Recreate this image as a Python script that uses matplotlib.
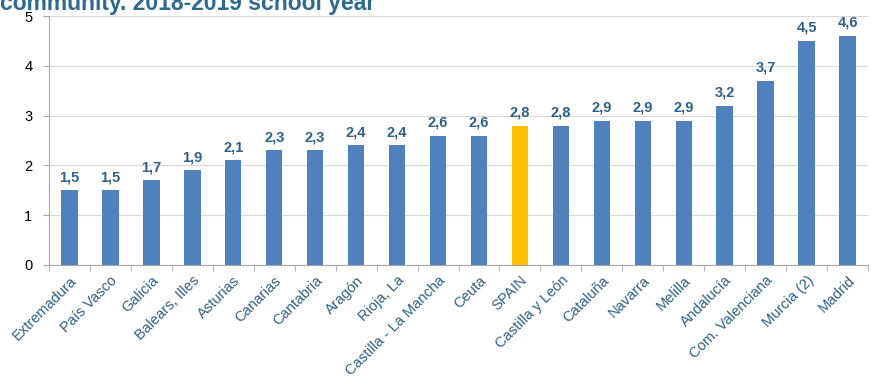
import matplotlib
matplotlib.use("Agg")
import matplotlib.pyplot as plt

regions = ["Extremadura", "País Vasco", "Galicia", "Balears, Illes", "Asturias",
           "Canarias", "Cantabria", "Aragón", "Rioja, La", "Castilla - La Mancha",
           "Ceuta", "SPAIN", "Castilla y León", "Cataluña", "Navarra", "Melilla",
           "Andalucía", "Com. Valenciana", "Murcia (2)", "Madrid"]
values = [1.5, 1.5, 1.7, 1.9, 2.1, 2.3, 2.3, 2.4, 2.4, 2.6,
          2.6, 2.8, 2.8, 2.9, 2.9, 2.9, 3.2, 3.7, 4.5, 4.6]

plt.rcParams['font.family'] = ['Liberation Sans', 'DejaVu Sans']

label_col = '#2E6187'
colors = ['#FFC000' if r == 'SPAIN' else '#4F81BD' for r in regions]

fig = plt.figure(figsize=(8.71, 3.78), dpi=100)
ax = fig.add_axes([49 / 871, 1 - 265 / 378, 819 / 871, 249 / 378])

x = range(len(regions))
ax.bar(x, values, width=0.4, color=colors, zorder=3)

for xi, v in zip(x, values):
    ax.text(xi, v + 0.12, '{:.1f}'.format(v).replace('.', ','), ha='center', va='bottom',
            fontsize=10.5, fontweight='bold', color=label_col)

ax.set_xlim(-0.5, len(regions) - 0.5)
ax.set_ylim(0, 5)
ax.set_yticks(range(6))
ax.yaxis.grid(True, color='#D9D9D9', linewidth=0.8, zorder=0)
ax.set_axisbelow(True)

ax.set_xticks(x)
ax.set_xticklabels(regions, rotation=45, ha='right', rotation_mode='anchor',
                   fontsize=10.5, color=label_col)
ax.tick_params(axis='x', length=0, pad=6)
ax.set_xticks([i + 0.5 for i in range(-1, len(regions))], minor=True)
ax.tick_params(axis='x', which='minor', length=4, color='#A6A6A6', direction='out')
ax.tick_params(axis='y', length=4, color='#A6A6A6', labelsize=10.5, labelcolor='black', pad=8)

for s in ['top', 'right']:
    ax.spines[s].set_visible(False)
for s in ['left', 'bottom']:
    ax.spines[s].set_color('#A6A6A6')

# title is partly cut off at the top, as in the source image
fig.text(0.0, 1 - 10 / 378, 'community. 2018-2019 school year', fontsize=16.5,
         fontweight='bold', color='#2E6A8E', ha='left', va='baseline')

fig.savefig('out.png', dpi=100)
